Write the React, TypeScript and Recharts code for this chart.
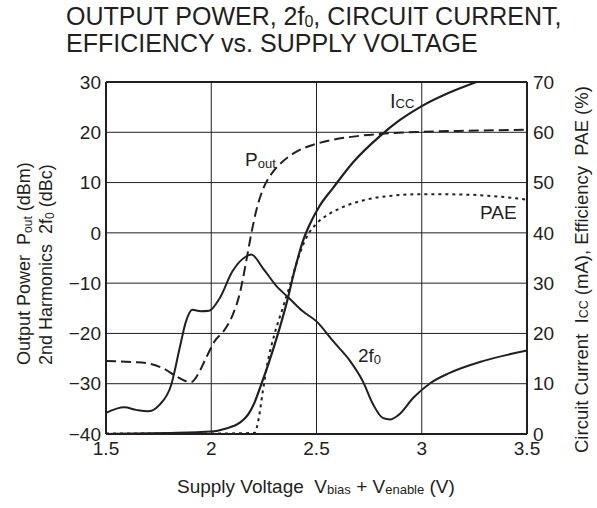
import React from "react";
import {
  ComposedChart,
  Line,
  XAxis,
  YAxis,
  CartesianGrid,
  ReferenceLine,
} from "recharts";

// ---- Axis ticks ----
const xTicks = [1.5, 2, 2.5, 3, 3.5];
const leftTicks = [-40, -30, -20, -10, 0, 10, 20, 30];
const rightTicks = [0, 10, 20, 30, 40, 50, 60, 70];

// ---- Pout (dBm), left axis ----
const poutV = [1.5, 1.627, 1.706, 1.769, 1.833, 1.88, 1.904, 1.936, 1.975, 2.015, 2.063, 2.102, 2.134, 2.166, 2.189, 2.213, 2.245, 2.284, 2.332, 2.403, 2.483, 2.578, 2.704, 2.847, 3.0, 3.212, 3.5];
const poutVal = [-25.5, -25.7, -26.0, -26.9, -28.5, -29.5, -29.7, -28.2, -24.9, -21.6, -19.3, -16.3, -12.3, -5.7, -0.4, 4.3, 8.6, 11.6, 13.9, 16.1, 17.5, 18.5, 19.3, 19.8, 20.1, 20.3, 20.5];

// ---- 2f0 (dBc), left axis ----
const h2V = [1.5, 1.587, 1.643, 1.698, 1.754, 1.81, 1.85, 1.88, 1.91, 1.95, 1.99, 2.04, 2.1, 2.165, 2.19, 2.245, 2.31, 2.37, 2.435, 2.5, 2.58, 2.66, 2.72, 2.77, 2.815, 2.85, 2.89, 2.96, 3.04, 3.13, 3.29, 3.5];
const h2Val = [-35.8, -34.7, -35.2, -35.5, -34.2, -30.2, -22.9, -17.6, -15.3, -15.6, -15.5, -13.0, -7.7, -4.7, -4.3, -7.0, -10.6, -13.0, -15.6, -17.6, -21.6, -25.5, -29.5, -34.2, -36.8, -37.1, -36.2, -32.8, -29.9, -27.9, -25.5, -23.4];

// ---- Icc (mA), right axis ----
const iccV = [1.5, 1.785, 2.0, 2.071, 2.134, 2.174, 2.205, 2.237, 2.276, 2.316, 2.356, 2.395, 2.435, 2.467, 2.514, 2.578, 2.673, 2.8, 2.895, 3.0, 3.132, 3.26];
const iccVal = [0, 0.2, 0.5, 1.1, 2.2, 3.8, 6.2, 9.8, 14.5, 19.8, 25.7, 32.4, 38.3, 41.6, 45.3, 48.9, 54.0, 59.2, 62.4, 65.2, 67.9, 70];

// ---- PAE (%), right axis ----
const paeV = [1.5, 1.8, 2.0, 2.205, 2.226, 2.245, 2.269, 2.3, 2.34, 2.38, 2.419, 2.459, 2.499, 2.562, 2.641, 2.736, 2.863, 3.0, 3.212, 3.37, 3.5];
const paeVal = [0.1, 0.1, 0.1, 0.2, 3.2, 8.5, 14.5, 19.8, 25.1, 30.4, 35.7, 39.6, 41.8, 43.8, 45.4, 46.6, 47.4, 47.7, 47.6, 47.2, 46.6];

const zip = (xs: number[], ys: number[]) => xs.map((v, i) => ({ v, y: ys[i] }));
const poutData = zip(poutV, poutVal);
const h2Data = zip(h2V, h2Val);
const iccData = zip(iccV, iccVal);
const paeData = zip(paeV, paeVal);

const INK = "#231f20";
const FONT = "'Liberation Sans', Arial, Helvetica, sans-serif";
const NB = "\u00A0";
const minus = (n: number) => String(n).replace("-", "\u2212");
const tickStyle = { fontSize: 19, fill: INK, fontFamily: FONT };

export default function App() {
  return (
    <div style={{ position: "absolute", left: 0, top: 0, width: 597, height: 508, background: "#fff" }}>
      <ComposedChart
        width={597}
        height={508}
        margin={{ top: 82, right: 30, bottom: 44, left: 66 }}
      >
        <CartesianGrid yAxisId="left" stroke={INK} strokeWidth={1} horizontalValues={leftTicks} verticalValues={xTicks} />
        <XAxis
          dataKey="v"
          type="number"
          domain={[1.5, 3.5]}
          ticks={xTicks}
          allowDuplicatedCategory={false}
          height={30}
          tickLine={false}
          tickSize={6}
          tickMargin={2}
          axisLine={{ stroke: INK, strokeWidth: 2 }}
          tick={tickStyle}
          interval={0}
        />
        <YAxis
          yAxisId="left"
          type="number"
          domain={[-40, 30]}
          ticks={leftTicks}
          width={40}
          tickLine={false}
          tickSize={3}
          tickMargin={2}
          axisLine={{ stroke: INK, strokeWidth: 2 }}
          tick={tickStyle}
          tickFormatter={minus}
          interval={0}
        />
        <YAxis
          yAxisId="right"
          orientation="right"
          type="number"
          domain={[0, 70]}
          ticks={rightTicks}
          width={40}
          tickLine={false}
          tickSize={4}
          tickMargin={2}
          axisLine={{ stroke: INK, strokeWidth: 2 }}
          tick={tickStyle}
          interval={0}
        />
        <ReferenceLine yAxisId="left" y={30} stroke={INK} strokeWidth={2} />
        <Line
          yAxisId="left"
          data={poutData}
          dataKey="y"
          type="monotone"
          stroke={INK}
          strokeWidth={2}
          strokeDasharray="10 5"
          dot={false}
          isAnimationActive={false}
        />
        <Line
          yAxisId="left"
          data={h2Data}
          dataKey="y"
          type="monotone"
          stroke={INK}
          strokeWidth={2}
          dot={false}
          isAnimationActive={false}
        />
        <Line
          yAxisId="right"
          data={iccData}
          dataKey="y"
          type="monotone"
          stroke={INK}
          strokeWidth={2.2}
          dot={false}
          isAnimationActive={false}
        />
        <Line
          yAxisId="right"
          data={paeData}
          dataKey="y"
          type="monotone"
          stroke={INK}
          strokeWidth={2}
          strokeDasharray="3 4"
          dot={false}
          isAnimationActive={false}
        />
      </ComposedChart>
      <svg
        width={597}
        height={508}
        style={{ position: "absolute", left: 0, top: 0, pointerEvents: "none" }}
        fontFamily={FONT}
        fill={INK}
      >
        <text x={66} y={25} fontSize={25}>
          OUTPUT POWER, 2f<tspan fontSize={16} dy={2}>0</tspan>
          <tspan dy={-2}>, CIRCUIT CURRENT,</tspan>
        </text>
        <text x={66} y={52} fontSize={25}>EFFICIENCY vs. SUPPLY VOLTAGE</text>

        <text x={177} y={493} fontSize={19}>
          {"Supply Voltage " + NB + "V"}
          <tspan fontSize={13} dy={1}>bias</tspan>
          <tspan dy={-1}>{" + V"}</tspan>
          <tspan fontSize={13} dy={1}>enable</tspan>
          <tspan dy={-1}>{" (V)"}</tspan>
        </text>

        <text transform="translate(30,365) rotate(-90)" fontSize={18}>
          {"Output Power " + NB + "P"}
          <tspan fontSize={12} dy={2}>out</tspan>
          <tspan dy={-2}>{" (dBm)"}</tspan>
        </text>
        <text transform="translate(52,365) rotate(-90)" fontSize={18}>
          {"2nd Harmonics " + NB + "2f"}
          <tspan fontSize={12} dy={2}>0</tspan>
          <tspan dy={-2}>{" (dBc)"}</tspan>
        </text>
        <text transform="translate(588,453) rotate(-90)" fontSize={18.5}>
          {"Circuit Current " + NB + "I"}
          <tspan fontSize={12.5}>CC</tspan>
          {" (mA), Efficiency " + NB + "PAE (%)"}
        </text>

        <text x={390} y={108} fontSize={20}>
          I<tspan fontSize={13}>CC</tspan>
        </text>
        <text x={245} y={166} fontSize={19}>
          P<tspan fontSize={13} dy={2}>out</tspan>
        </text>
        <text x={480} y={219} fontSize={19}>PAE</text>
        <text x={358} y={362} fontSize={19}>
          2f<tspan fontSize={13} dy={2}>0</tspan>
        </text>
      </svg>
    </div>
  );
}
